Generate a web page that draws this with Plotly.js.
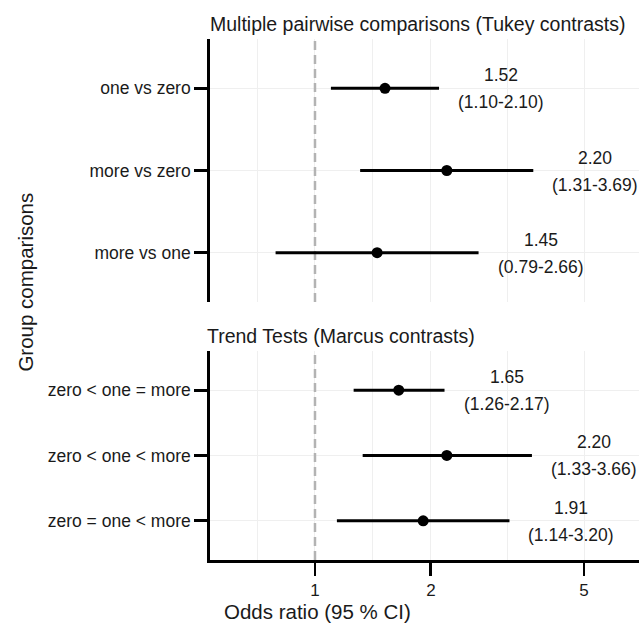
<!DOCTYPE html>
<html>
<head>
<meta charset="utf-8">
<script src="https://cdn.plot.ly/plotly-3.0.1.min.js"></script>
<style>html,body{margin:0;padding:0;background:#fff;}</style>
</head>
<body>
<div id="chart" style="width:639px;height:628px;"></div>
<script>
// ---- data ----
const topTitle = "Multiple pairwise comparisons (Tukey contrasts)";
const topCategories = ["one vs zero", "more vs zero", "more vs one"];
const topEstimate = [1.52, 2.20, 1.45];
const topLower = [1.10, 1.31, 0.79];
const topUpper = [2.10, 3.69, 2.66];

const bottomTitle = "Trend Tests (Marcus contrasts)";
const bottomCategories = ["zero < one = more", "zero < one < more", "zero = one < more"];
const bottomEstimate = [1.65, 2.20, 1.91];
const bottomLower = [1.26, 1.33, 1.14];
const bottomUpper = [2.17, 3.66, 3.20];

const xTickVals = [1, 2, 5];
const xTickText = ["1", "2", "5"];
const minorGridVals = [0.7071, 1.4142, 3.1623, 7.0711];
const referenceValue = 1;
const xTitle = "Odds ratio (95 % CI)";
const yTitle = "Group comparisons";

// ---- styles ----
const FONT = "Liberation Sans, Arial, Helvetica, sans-serif";
const TXT = "#1a1a1a";
const GRID = "#efefef";
const yRange = [2.6, -0.6];

function idx(arr){ return arr.map((_, i) => i); }
function esc(s){ return s.replace(/</g, "&lt;"); }

function panelTraces(cats, est, lo, hi, xa, ya){
  const ys = idx(cats);
  return [
    {
      type: "scatter", mode: "lines", xaxis: xa, yaxis: ya,
      x: [referenceValue, referenceValue], y: [yRange[0], yRange[1]],
      line: {color: "#b3b3b3", width: 2.5, dash: "9px,5px"},
      hoverinfo: "skip", showlegend: false
    },
    {
      type: "scatter", mode: "markers", xaxis: xa, yaxis: ya,
      x: est, y: ys,
      marker: {color: "#000", size: 11},
      error_x: {
        type: "data", symmetric: false,
        array: hi.map((h, i) => h - est[i]),
        arrayminus: lo.map((l, i) => est[i] - l),
        color: "#000", thickness: 3, width: 0
      },
      showlegend: false
    }
  ];
}

function labelAnnotations(est, lo, hi, xref, yref){
  const out = [];
  est.forEach((e, i) => {
    out.push({
      xref: xref, yref: yref, x: Math.log10(hi[i]), y: i,
      text: e.toFixed(2), showarrow: false, xanchor: "center", yanchor: "middle",
      xshift: 62, yshift: 13, font: {family: FONT, size: 17.5, color: TXT}
    });
    out.push({
      xref: xref, yref: yref, x: Math.log10(hi[i]), y: i,
      text: "(" + lo[i].toFixed(2) + "-" + hi[i].toFixed(2) + ")", showarrow: false,
      xanchor: "center", yanchor: "middle",
      xshift: 62, yshift: -14, font: {family: FONT, size: 17.5, color: TXT}
    });
  });
  return out;
}

const data = [].concat(
  panelTraces(topCategories, topEstimate, topLower, topUpper, "x", "y"),
  panelTraces(bottomCategories, bottomEstimate, bottomLower, bottomUpper, "x2", "y2")
);

const xRange = [-0.2727, 0.8416];

const baseX = {
  type: "log", range: xRange, domain: [0, 1],
  tickvals: xTickVals, ticktext: xTickText,
  showgrid: true, gridcolor: GRID, gridwidth: 1,
  minor: {tickvals: minorGridVals, showgrid: true, gridcolor: GRID, gridwidth: 1, ticks: ""},
  zeroline: false, fixedrange: true
};

const baseY = {
  range: yRange, showgrid: true, gridcolor: GRID, gridwidth: 1, zeroline: false,
  showline: true, linecolor: "#000", linewidth: 2.8,
  ticks: "outside", ticklen: 13, tickwidth: 2.8, tickcolor: "#000",
  tickfont: {family: FONT, size: 17.5, color: TXT}, fixedrange: true
};

const layout = {
  width: 639, height: 628,
  margin: {l: 210, r: 0, t: 39, b: 68},
  paper_bgcolor: "#fff", plot_bgcolor: "#fff",
  font: {family: FONT, color: TXT},
  showlegend: false,
  xaxis: Object.assign({}, baseX, {anchor: "y", showticklabels: false, showline: false, ticks: ""}),
  yaxis: Object.assign({}, baseY, {domain: [0.4952, 1], anchor: "x",
    tickvals: idx(topCategories), ticktext: topCategories.map(esc)}),
  xaxis2: Object.assign({}, baseX, {anchor: "y2", showline: true, linecolor: "#000", linewidth: 2.8,
    ticks: "outside", ticklen: 13, tickwidth: 2.8, tickcolor: "#000",
    tickfont: {family: FONT, size: 17, color: TXT}}),
  yaxis2: Object.assign({}, baseY, {domain: [0, 0.4012], anchor: "x2",
    tickvals: idx(bottomCategories), ticktext: bottomCategories.map(esc)}),
  annotations: [].concat(
    labelAnnotations(topEstimate, topLower, topUpper, "x", "y"),
    labelAnnotations(bottomEstimate, bottomLower, bottomUpper, "x2", "y2"),
    [
      {xref: "paper", yref: "paper", x: 0, y: 1.0288, xanchor: "left", yanchor: "middle",
       xshift: -2, text: topTitle, showarrow: false, font: {family: FONT, size: 19.5, color: TXT}},
      {xref: "paper", yref: "paper", x: 0, y: 0.429, xanchor: "left", yanchor: "middle",
       xshift: -5, text: bottomTitle, showarrow: false, font: {family: FONT, size: 19.5, color: TXT}},
      {xref: "paper", yref: "paper", x: 0.2517, y: -0.0979, xanchor: "center", yanchor: "middle",
       text: xTitle, showarrow: false, font: {family: FONT, size: 20.5, color: TXT}},
      {xref: "paper", yref: "paper", x: -0.431, y: 0.5326, xanchor: "center", yanchor: "middle",
       textangle: -90, text: yTitle, showarrow: false, font: {family: FONT, size: 20.5, color: TXT}}
    ]
  )
};

Plotly.newPlot("chart", data, layout, {displayModeBar: false, staticPlot: true});
</script>
</body>
</html>
